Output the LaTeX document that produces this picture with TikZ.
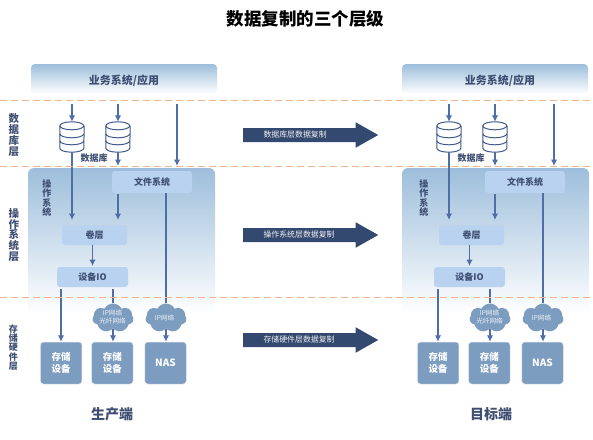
\documentclass[tikz,border=0pt]{standalone}
\usepackage{fontspec}
\setmainfont{Noto Sans CJK SC}
\usetikzlibrary{arrows.meta,shapes.symbols,shapes.arrows}
\definecolor{ink}{HTML}{3F4F73}
\definecolor{linkc}{HTML}{4F6EA8}
\definecolor{dbc}{HTML}{3F5A8C}
\definecolor{dash}{HTML}{F0B48C}
\definecolor{topc}{HTML}{9DBEDB}
\definecolor{soft}{HTML}{B8D2EF}
\definecolor{hw}{HTML}{7C9CC0}
\definecolor{big}{HTML}{34496F}
\tikzset{
  layerline/.style={draw=dash,line width=1pt,dash pattern=on 6.5pt off 4.5pt},
  link/.style={draw=linkc,line width=1.3pt},
  linka/.style={link,-{Latex[length=6.5pt,width=6.5pt]}},
  softbox/.style={fill=soft,rounded corners=3pt,inner sep=0pt,text=ink,font=\bfseries\fontsize{9}{11}\selectfont},
  hwbox/.style={fill=hw,draw=white!80!hw,line width=.5pt,rounded corners=3pt,inner sep=0pt,minimum width=41.5pt,minimum height=42pt,text=white,align=center,font=\bfseries\fontsize{9.5}{11.5}\selectfont},
  netcloud/.style={cloud,cloud puffs=7,cloud puff arc=125,aspect=1.4,fill=hw,inner sep=0pt,minimum width=41pt,minimum height=29pt},
  netlabel/.style={text=white!88!hw,align=center,inner sep=0pt,font=\fontsize{6.6}{8}\selectfont},
  vert/.style={text=ink,align=center,inner sep=0pt},
  dbnode/.style={minimum width=24pt,minimum height=30pt,inner sep=0pt},
  bigarrow/.style={single arrow,fill=big,draw=none,inner xsep=0pt,inner ysep=6.8pt,minimum width=25pt,minimum height=135pt,single arrow head extend=5.7pt,single arrow tip angle=59},
  bigtext/.style={text=white!92!big,anchor=west,inner sep=0pt,font=\fontsize{7.9}{9}\selectfont},
  sidetitle/.style={text=ink,font=\bfseries\fontsize{14}{16}\selectfont},
}
% cylinder with two bands, drawn in the frame of a named database node
\newcommand{\dbdraw}[1]{%
  \path (#1.north west) ++(0,-4pt) coordinate (#1tl);
  \path (#1.north east) ++(0,-4pt) coordinate (#1tr);
  \path (#1.south west) ++(0,4pt) coordinate (#1bl);
  \path (#1.south east) ++(0,4pt) coordinate (#1br);
  \fill[white] (#1tl) arc[start angle=180,end angle=0,x radius=12pt,y radius=4pt] -- (#1br) arc[start angle=0,end angle=-180,x radius=12pt,y radius=4pt] -- cycle;
  \draw[dbc,line width=1pt] (#1tl) arc[start angle=180,end angle=540,x radius=12pt,y radius=4pt];
  \draw[dbc,line width=1pt] (#1tl) -- (#1bl) arc[start angle=180,end angle=360,x radius=12pt,y radius=4pt] -- (#1tr);
  \draw[dbc,line width=1pt] ([yshift=-8pt]#1tl) arc[start angle=180,end angle=360,x radius=12pt,y radius=4pt];
  \draw[dbc,line width=1pt] ([yshift=-15pt]#1tl) arc[start angle=180,end angle=360,x radius=12pt,y radius=4pt];
}
% #1 prefix, #2 app box shift, #3 os panel shift, #4 file box shift, #5 main shift, #6 app text shift, #7 side-name shift
\newcommand{\sidepanel}[7]{%
  \shade[top color=topc,bottom color=white,rounded corners=4pt] (31+#2,64) rectangle (217+#2,94);
  \node[text=ink,inner sep=0pt,font=\bfseries\fontsize{11}{13}\selectfont] (#1app) at (124+#6,81) {业务系统/应用};
  \shade[top color=topc,bottom color=white,rounded corners=6pt] (28+#3,168) rectangle (215+#3,314);
  \node[softbox,minimum width=80pt,minimum height=22pt] (#1file) at (152+#4,182) {文件系统};
  \node[softbox,minimum width=65pt,minimum height=20pt] (#1vol) at (94.5+#5,235) {卷层};
  \node[softbox,minimum width=71pt,minimum height=20pt] (#1io) at (92.5+#5,277) {设备IO};
  \node[vert,font=\bfseries\fontsize{9}{9.3}\selectfont] (#1os) at (46.8+#5,198) {操\\作\\系\\统};
  \node[dbnode] (#1dba) at (72+#5,137) {};
  \node[dbnode] (#1dbb) at (118+#5,137) {};
  \dbdraw{#1dba}\dbdraw{#1dbb}
  \node[text=ink,inner sep=0pt,font=\bfseries\fontsize{9}{11}\selectfont] (#1dbl) at (94+#5,158) {数据库};
  \node[hwbox] (#1sa) at (61.2+#5,363) {存储\\设备};
  \node[hwbox] (#1sb) at (112.3+#5,363) {存储\\设备};
  \node[hwbox,font=\bfseries\fontsize{10}{12}\selectfont] (#1nas) at (165.5+#5,363) {NAS};
  \node[netcloud] (#1cla) at (113+#5,318) {};
  \node[netcloud] (#1clb) at (166+#5,318) {};
  \node[netlabel] (#1cltxa) at (112.5+#5,317) {IP网络\\光纤网络};
  \node[netlabel] (#1cltxb) at (164.5+#5,317.5) {IP网络};
  \coordinate (#1a1) at (72+#5,104);
  \coordinate (#1a2) at (118+#5,104);
  \coordinate (#1a3) at (177+#5,104);
  \coordinate (#1a3e) at (177+#5,166);
  \coordinate (#1a2e) at (118+#5,166);
  \coordinate (#1v1) at (72+#5,220);
  \coordinate (#1fs) at (118+#5,194);
  \coordinate (#1v2) at (118+#5,220);
  \coordinate (#1fn) at (166+#5,193);
  \coordinate (#1vs) at (92.5+#5,245);
  \coordinate (#1ie) at (92.5+#5,266);
  \coordinate (#1is) at (61+#5,289);
  \coordinate (#1ib) at (113+#5,289);
  \draw[linka] (#1a1) -- (#1dba.north);
  \draw[linka] (#1a2) -- (#1dbb.north);
  \draw[linka] (#1a3) -- (#1a3e);
  \draw[linka] (#1dbb.south) -- (#1a2e);
  \draw[linka] (#1dba.south) -- (#1v1);
  \draw[linka] (#1fs) -- (#1v2);
  \draw[linka] (#1vs) -- (#1ie);
  \draw[linka] (#1is) -- (#1is |- #1sa.north);
  \draw[link] (#1ib) -- (#1cla.north);
  \draw[linka] (#1cla.south) -- (#1cla.south |- #1sb.north);
  \draw[link] (#1fn) -- (#1clb.north);
  \draw[linka] (#1clb.south) -- (#1clb.south |- #1nas.north);
  \node[sidetitle] (#1name) at (112+#5+#7,414.5) {\ifnum#7=0 生产端\else 目标端\fi};
}
\begin{document}
\begin{tikzpicture}[x=1pt,y=-1pt]
\useasboundingbox (0,0) rectangle (593,439);
\fill[white] (0,0) rectangle (593,439);
\node[font=\bfseries\fontsize{17.5}{20}\selectfont,text=black,inner sep=0pt] (title) at (305.5,19) {数据复制的三个层级};
\sidepanel{a}{0}{0}{0}{0}{0}{0}
\sidepanel{b}{371}{374}{373}{377}{376}{2}
% dashed layer lines
\coordinate (d1a) at (0,100); \coordinate (d1b) at (593,100);
\coordinate (d2a) at (0,166); \coordinate (d2b) at (593,166);
\coordinate (d3a) at (0,297); \coordinate (d3b) at (593,297);
\draw[layerline] (d1a) -- (d1b);
\draw[layerline] (d2a) -- (d2b);
\draw[layerline] (d3a) -- (d3b);
% layer labels
\node[vert,font=\bfseries\fontsize{10.5}{10.8}\selectfont] (l1) at (14,135) {数\\据\\库\\层};
\node[vert,font=\bfseries\fontsize{10.5}{10.8}\selectfont] (l2) at (14,235) {操\\作\\系\\统\\层};
\node[vert,font=\bfseries\fontsize{9}{9.4}\selectfont] (l3) at (13.5,347.5) {存\\储\\硬\\件\\层};
% replication arrows
\node[bigarrow] (r1) at (304.5,135) {};
\node[bigarrow] (r2) at (304.5,235) {};
\node[bigarrow] (r3) at (304.5,340) {};
\node[bigtext] (t1) at (263.3,134.5) {数据库层数据复制};
\node[bigtext] (t2) at (263.3,234.5) {操作系统层数据复制};
\node[bigtext] (t3) at (263.3,339.5) {存储硬件层数据复制};
\end{tikzpicture}
\end{document}
